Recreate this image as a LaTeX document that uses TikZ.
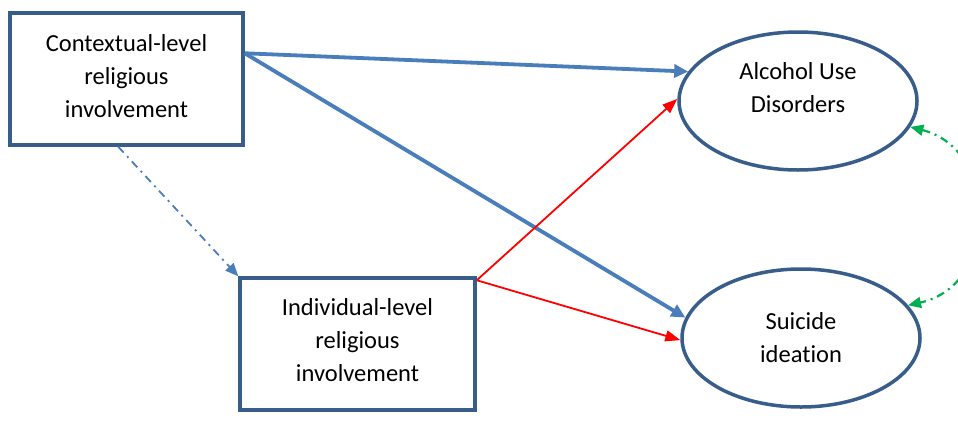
\documentclass[tikz,border=0pt]{standalone}
\usepackage{fontspec}
\setmainfont{Carlito}[Ligatures={NoCommon}]
\usetikzlibrary{arrows.meta,shapes.geometric,calc}
\definecolor{boxblue}{HTML}{385D8A}
\definecolor{arrblue}{HTML}{4A7EBB}
\definecolor{grn}{HTML}{00B050}
\begin{document}
\begin{tikzpicture}[x=1pt,y=-1pt,
  boxshape/.style={draw=boxblue,line width=3.5pt,rectangle,inner sep=0pt},
  ellshape/.style={draw=boxblue,line width=3.5pt,ellipse,inner sep=0pt,minimum width=238pt,minimum height=138pt},
  lbl/.style={align=center,font=\fontsize{24.5pt}{33pt}\selectfont,inner sep=0pt},
  thickarr/.style={draw=arrblue,line width=3.8pt,-{Triangle[length=14pt,width=13pt]}},
  redarr/.style={draw=red,line width=1.8pt,-{Triangle[length=15pt,width=11pt]}},
  dotarr/.style={draw=arrblue,line width=1.8pt,dash pattern=on 8pt off 5pt on 2pt off 5pt,-{Triangle[length=13pt,width=11pt]}},
  grnarr/.style={draw=grn,line width=2.2pt,dash pattern=on 8pt off 5pt on 2pt off 5pt,{Triangle[length=13pt,width=11pt]}-{Triangle[length=13pt,width=11pt]}}
]
\clip (0,0) rectangle (958,423);
\fill[white] (0,0) rectangle (958,423);
\node[boxshape,minimum width=233pt,minimum height=132pt] (b1) at (126.5,79) {};
\node[boxshape,minimum width=235pt,minimum height=132pt] (b2) at (357.5,344) {};
\node[ellshape] (e1) at (798,101) {};
\node[ellshape] (e2) at (801,338) {};
\node[lbl] (t1) at (126.5,76) {Contextual-level\\religious\\involvement};
\node[lbl] (t2) at (357.5,340) {Individual-level\\religious\\involvement};
\node[lbl] (t3) at (798,88) {Alcohol Use\\Disorders};
\node[lbl] (t4) at (801,338) {Suicide\\ideation};
\coordinate (s1) at ([yshift=-42pt]b1.north east);
\draw[thickarr] (s1) -- (e1.165);
\draw[thickarr] (s1) -- (e2.170);
\draw[redarr] ([yshift=-4pt]b2.north east) -- (e1.179);
\draw[redarr] ([yshift=-4pt]b2.north east) -- (e2.181);
\draw[dotarr] ([xshift=110pt]b1.south west) -- (b2.north west);
\draw[grnarr] (e1.-13) .. controls (1000,150) and (1000,285) .. (e2.17);
\end{tikzpicture}
\end{document}
